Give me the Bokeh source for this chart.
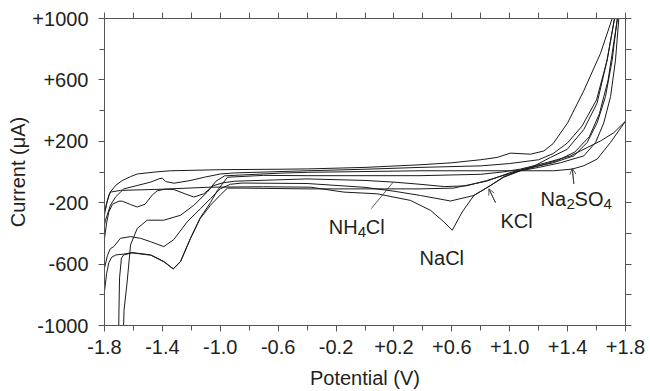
from bokeh.plotting import figure
from bokeh.models import LinearAxis, FixedTicker, CustomJSTickFormatter, Range1d, Arrow, OpenHead
from bokeh.embed import file_html
from bokeh.resources import INLINE
from bokeh.core.properties import value

FONT = "Liberation Sans"
INK = "#231f20"

# ---- data (potential V, current uA) ----
a_v = [-1.8, -1.785, -1.76, -1.72, -1.678, -1.62, -1.574, -1.45, -1.344, -1.0, -0.6, -0.4, 0.0, 0.38, 0.6, 0.8, 0.913,
       1.005, 1.144, 1.236, 1.30, 1.40, 1.512, 1.627, 1.708, 1.73]
a_i = [-280, -200, -131, -85, -56, -30, -13, 0, 8, 15, 18, 20, 30, 47, 60, 80, 95,
       123, 116, 137, 185, 320, 530, 772, 1000, 1100]

b_v = [-1.8, -1.793, -1.759, -1.724, -1.667, -1.574, -1.482, -1.425, -1.401, -1.378, -1.32, -1.21, -1.11, -1.0, -0.9,
       -0.4, 0.0, 0.38, 0.8, 1.0, 1.2, 1.3, 1.4, 1.5, 1.6, 1.673, 1.724, 1.74]
b_i = [-347, -314, -217, -163, -110, -88, -66, -45, -40, -62, -73, -56, -34, -13, -6,
       8, 18, 30, 40, 55, 80, 120, 190, 300, 470, 729, 1000, 1100]

nacl_v = [-1.8, -1.793, -1.77, -1.759, -1.69, -1.4, -1.07, -0.7, -0.377, -0.146, 0.084, 0.314, 0.453, 0.545, 0.603,
          0.672, 0.752, 0.867, 0.96, 1.074, 1.2, 1.33, 1.45, 1.55, 1.62, 1.68, 1.72, 1.745, 1.76]
nacl_i = [-250, -239, -150, -131, -120, -112, -99, -96, -99, -131, -142, -185, -250, -325, -379,
          -260, -153, -88, -30, 10, 40, 75, 130, 230, 380, 600, 850, 1000, 1100]

nh4cl_v = [-1.8, -1.785, -1.77, -1.745, -1.70, -1.678, -1.62, -1.574, -1.52, -1.47, -1.436, -1.38, -1.321, -1.25,
           -1.183, -1.114, -1.045, -0.98, -0.9, -0.4, 0.0, 0.2, 0.38, 0.55, 0.7, 0.84, 1.0, 1.15, 1.282, 1.397,
           1.512, 1.604, 1.673, 1.724, 1.735]
nh4cl_i = [-432, -330, -260, -210, -190, -190, -212, -228, -210, -150, -122, -112, -114, -140,
           -163, -142, -88, -70, -60, -45, -55, -66, -80, -95, -90, -56, -10, 30, 95, 148,
           277, 450, 729, 1000, 1100]

kcl_v = [-1.8, -1.78, -1.76, -1.736, -1.69, -1.621, -1.551, -1.482, -1.39, -1.321, -1.229, -1.137, -1.068, -1.0,
         -0.93, -0.85, -0.4, 0.0, 0.2, 0.384, 0.591, 0.752, 0.867, 0.959, 1.074, 1.2, 1.35, 1.512, 1.593, 1.65,
         1.697, 1.731, 1.754, 1.77]
kcl_i = [-626, -545, -500, -486, -432, -421, -432, -454, -486, -440, -325, -239, -174, -110,
         -80, -72, -75, -100, -125, -153, -189, -153, -88, -34, 8, 30, 60, 105, 192, 320,
         492, 729, 1000, 1100]

na2so4_rev_v = [-1.8, -1.785, -1.77, -1.75, -1.72, -1.667, -1.61, -1.48, -1.39, -1.325, -1.275, -1.206, -1.14,
                -1.068, -1.02, -0.95, -0.7, -0.4, 0.38, 0.8, 0.95, 1.074, 1.259, 1.42, 1.535, 1.627, 1.719, 1.8]
na2so4_rev_i = [-776, -660, -590, -555, -540, -535, -525, -540, -583, -630, -583, -432, -300,
                -200, -120, -34, -22, -24, -24, -15, 0, 19, 62, 105, 159, 202, 256, 331]

p_v = [-1.703, -1.700, -1.696, -1.683, -1.667, -1.61, -1.48, -1.39, -1.325, -1.275, -1.206, -1.14, -1.068, -1.0,
       -0.95, -0.85, -0.4, 0.38, 0.61, 0.84, 1.0, 1.1, 1.3, 1.443, 1.535, 1.604, 1.662, 1.708, 1.743, 1.76]
p_i = [-1100, -900, -690, -561, -540, -527, -542, -585, -632, -585, -434, -305, -217, -150,
       -105, -105, -110, -110, -105, -60, -5, 20, 60, 105, 192, 320, 492, 729, 1000, 1100]

na2so4_fwd_v = [-1.671, -1.665, -1.643, -1.62, -1.574, -1.505, -1.39, -1.275, -1.183, -1.09, -1.03, -0.97, -0.6,
                -0.4, 0.0, 0.38, 0.8, 1.1, 1.305, 1.432, 1.512, 1.604, 1.696, 1.8]
na2so4_fwd_i = [-1100, -900, -711, -475, -368, -314, -314, -282, -217, -131, -60, -25, -8,
                -2, 3, 8, 8, 8, 8, 19, 41, 84, 192, 331]

curves = [(a_v, a_i), (b_v, b_i), (nacl_v, nacl_i), (nh4cl_v, nh4cl_i), (kcl_v, kcl_i),
          (na2so4_rev_v, na2so4_rev_i), (p_v, p_i), (na2so4_fwd_v, na2so4_fwd_i)]

x_major = [-1.8, -1.4, -1.0, -0.6, -0.2, 0.2, 0.6, 1.0, 1.4, 1.8]
x_minor = [-1.8, -1.6, -1.4, -1.2, -1.0, -0.8, -0.6, -0.4, -0.2, 0.0, 0.2, 0.4, 0.6, 0.8, 1.0, 1.2, 1.4, 1.6, 1.8]
y_major = [-1000, -600, -200, 200, 600, 1000]
y_minor = [-1000, -800, -600, -400, -200, 0, 200, 400, 600, 800, 1000]

# labels: anchor (V, I) of text baseline-left
lab_main_x = [-0.25, -0.25, 0.377, 0.936, 1.213, 1.213]
lab_main_y = [-357, -357, -561, -321, -174, -174]
lab_main_t = ["NH", "Cl", "NaCl", "KCl", "Na", "SO"]
lab_main_off = [0, 37, 0, 0, 0, 34]
lab_sub_x = [-0.25, 1.213, 1.213]
lab_sub_y = [-357, -174, -174]
lab_sub_t = ["4", "2", "4"]
lab_sub_off = [29, 26, 63]

# pointers: start (V, I) -> tip (V, I)
ptr_x0 = [0.043, 0.902, 1.443]
ptr_y0 = [-239, -200, -77]
ptr_x1 = [0.195, 0.856, 1.432]
ptr_y1 = [-66, -110, 24]

p = figure(width=650, height=391, output_backend="svg", toolbar_location=None,
           x_range=Range1d(-1.8, 1.8), y_range=Range1d(-1000, 1000),
           x_axis_type=None, y_axis_type=None,
           min_border_left=104, min_border_right=25, min_border_top=18, min_border_bottom=63)
p.outline_line_color = None
p.background_fill_color = "white"
p.border_fill_color = "white"
p.xgrid.visible = False
p.ygrid.visible = False

xfmt = CustomJSTickFormatter(code="return (tick > 0.001 ? '+' : '') + tick.toFixed(1);")
yfmt = CustomJSTickFormatter(code="return (tick > 0 ? '+' : '') + tick.toFixed(0);")


def style(ax, labels):
    ax.axis_line_color = "#555555"
    ax.major_tick_line_color = "#555555"
    ax.minor_tick_line_color = "#555555"
    ax.major_tick_in = 0
    ax.minor_tick_in = 0
    ax.major_tick_out = 6
    ax.minor_tick_out = 5
    if labels:
        ax.major_label_text_font = FONT
        ax.major_label_text_font_size = "20px"
        ax.major_label_text_color = INK
        ax.axis_label_text_font = FONT
        ax.axis_label_text_font_size = "20px"
        ax.axis_label_text_font_style = "normal"
        ax.axis_label_text_color = INK
    else:
        ax.minor_tick_out = 6
        ax.major_label_standoff = 0


bx = LinearAxis(formatter=xfmt, axis_label="Potential (V)",
                ticker=FixedTicker(ticks=x_major, minor_ticks=x_minor))
style(bx, True)
bx.major_label_standoff = 8
bx.axis_label_standoff = 10
p.add_layout(bx, "below")

ly = LinearAxis(formatter=yfmt, axis_label="Current (\u03bcA)",
                ticker=FixedTicker(ticks=y_major, minor_ticks=y_minor))
style(ly, True)
ly.major_label_standoff = 10
ly.axis_label_standoff = 0
p.add_layout(ly, "left")

# top and right frame edges: ticks only (no labelled major ticks)
tx = LinearAxis(ticker=FixedTicker(ticks=[], minor_ticks=x_minor))
style(tx, False)
p.add_layout(tx, "above")
ry = LinearAxis(ticker=FixedTicker(ticks=[], minor_ticks=y_minor))
style(ry, False)
p.add_layout(ry, "right")

for v, i in curves:
    p.line(v, i, line_color="#1a1a1a", line_width=1)

p.segment(x0=ptr_x0, y0=ptr_y0, x1=ptr_x1, y1=ptr_y1, line_color="#333333", line_width=0.8)
for k in range(1, 3):
    p.add_layout(Arrow(x_start=ptr_x0[k], y_start=ptr_y0[k], x_end=ptr_x1[k], y_end=ptr_y1[k],
                       line_color="#333333", line_width=0.8,
                       end=OpenHead(size=6, line_color="#333333", line_width=0.8)))

p.text(x=lab_main_x, y=lab_main_y, text=lab_main_t, x_offset=lab_main_off,
       text_font=value(FONT), text_font_size="20px", text_color=INK,
       text_align="left", text_baseline="alphabetic")
p.text(x=lab_sub_x, y=lab_sub_y, text=lab_sub_t, x_offset=lab_sub_off, y_offset=5,
       text_font=value(FONT), text_font_size="15px", text_color=INK,
       text_align="left", text_baseline="alphabetic")

open("out.html", "w").write(file_html(p, INLINE))
